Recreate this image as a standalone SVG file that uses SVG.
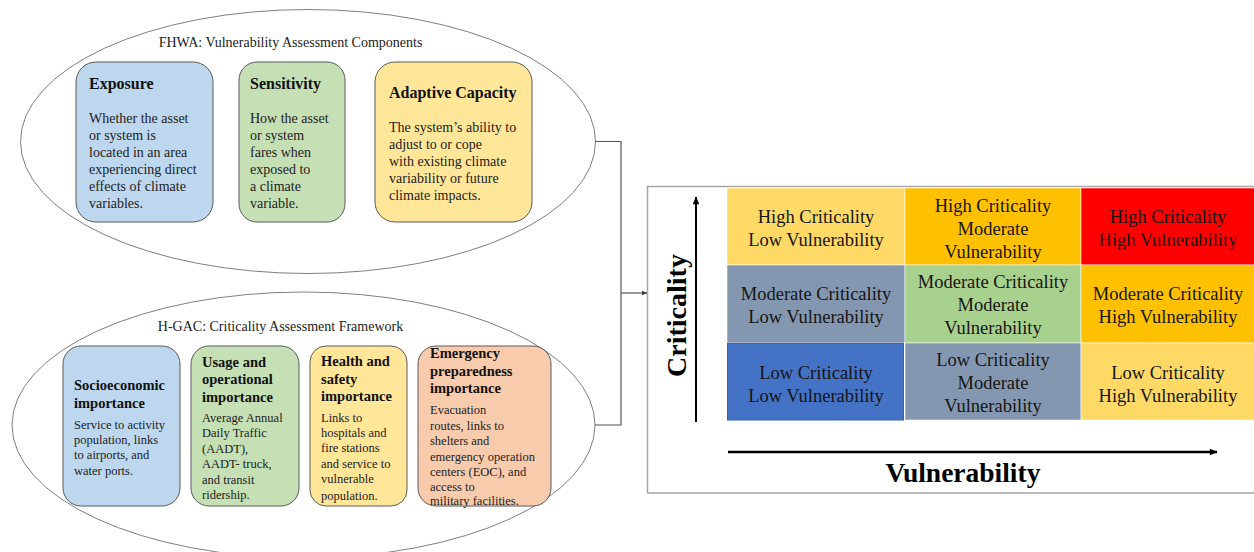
<svg xmlns="http://www.w3.org/2000/svg" width="1254" height="552" viewBox="0 0 1254 552">
  <defs>
    <marker id="arrowSmall" viewBox="0 0 10 10" refX="9" refY="5" markerWidth="6" markerHeight="6" markerUnits="userSpaceOnUse" orient="auto">
      <path d="M0,1 L10,5 L0,9 Z" fill="#404040"/>
    </marker>
    <marker id="arrowAxis" viewBox="0 0 10 10" refX="9" refY="5" markerWidth="9" markerHeight="8" markerUnits="userSpaceOnUse" orient="auto">
      <path d="M0,1 L10,5 L0,9 Z" fill="#000"/>
    </marker>
    <style>
      .frame { fill: none; stroke: #7f7f7f; stroke-width: 1; }
      .box { stroke: #5a5a5a; stroke-width: 1; }
      .blue { fill: #BDD7EE; }
      .green { fill: #C5E0B4; }
      .yellow { fill: #FFE699; }
      .salmon { fill: #F8CBAD; }
      .hdr { font-family: "Liberation Serif", "Times New Roman", serif; font-size: 14px; fill: #222; }
      .ttl { font-family: "Liberation Serif", "Times New Roman", serif; font-size: 16px; font-weight: bold; fill: #111; }
      .txt { font-family: "Liberation Serif", "Times New Roman", serif; font-size: 14px; fill: #222; }
      .ttl2 { font-family: "Liberation Serif", "Times New Roman", serif; font-size: 14.5px; font-weight: bold; fill: #111; }
      .txt2 { font-family: "Liberation Serif", "Times New Roman", serif; font-size: 12.5px; fill: #222; }
      .cell { stroke: #ffffff; stroke-opacity: 0.55; stroke-width: 1; }
      .ctxt { font-family: "Liberation Serif", "Times New Roman", serif; font-size: 18.5px; fill: #151515; text-anchor: middle; }
      .axis { font-family: "Liberation Serif", "Times New Roman", serif; font-size: 27.5px; font-weight: bold; fill: #000; text-anchor: middle; }
      .conn { fill: none; stroke: #555; stroke-width: 1.2; }
    </style>
  </defs>

  <rect width="1254" height="552" fill="#ffffff"/>

  <!-- FHWA vulnerability components -->
  <g id="fhwa">
    <ellipse class="frame" cx="308" cy="141.5" rx="287.5" ry="132"/>
    <text class="hdr" x="290.5" y="47" text-anchor="middle">FHWA: Vulnerability Assessment Components</text>
  </g>

  <g id="exposure">
    <rect class="box blue" x="76" y="62" width="137" height="160" rx="20"/>
    <text class="ttl" x="89" y="89">Exposure</text>
    <text class="txt" x="89" y="123">Whether the asset</text>
    <text class="txt" x="89" y="140">or system is</text>
    <text class="txt" x="89" y="157">located in an area</text>
    <text class="txt" x="89" y="174">experiencing direct</text>
    <text class="txt" x="89" y="191">effects of climate</text>
    <text class="txt" x="89" y="208">variables.</text>
  </g>

  <g id="sensitivity">
    <rect class="box green" x="239" y="62" width="106" height="160" rx="18"/>
    <text class="ttl" x="250" y="89">Sensitivity</text>
    <text class="txt" x="250" y="123">How the asset</text>
    <text class="txt" x="250" y="140">or system</text>
    <text class="txt" x="250" y="157">fares when</text>
    <text class="txt" x="250" y="174">exposed to</text>
    <text class="txt" x="250" y="191">a climate</text>
    <text class="txt" x="250" y="208">variable.</text>
  </g>

  <g id="adaptive-capacity">
    <rect class="box yellow" x="375" y="62" width="157" height="160" rx="20"/>
    <text class="ttl" x="389" y="98">Adaptive Capacity</text>
    <text class="txt" x="389" y="132">The system’s ability to</text>
    <text class="txt" x="389" y="149">adjust to or cope</text>
    <text class="txt" x="389" y="166">with existing climate</text>
    <text class="txt" x="389" y="183">variability or future</text>
    <text class="txt" x="389" y="200">climate impacts.</text>
  </g>

  <!-- H-GAC criticality framework -->
  <g id="hgac">
    <ellipse class="frame" cx="303.5" cy="425" rx="291.5" ry="133"/>
    <text class="hdr" x="280.5" y="330.5" text-anchor="middle">H-GAC: Criticality Assessment Framework</text>
  </g>

  <g id="socioeconomic">
    <rect class="box blue" x="63" y="346" width="117" height="160" rx="18"/>
    <text class="ttl2" x="74" y="390">Socioeconomic</text>
    <text class="ttl2" x="74" y="408">importance</text>
    <text class="txt2" x="74" y="428.5">Service to activity</text>
    <text class="txt2" x="74" y="444">population, links</text>
    <text class="txt2" x="74" y="459">to airports, and</text>
    <text class="txt2" x="74" y="474.5">water ports.</text>
  </g>

  <g id="usage">
    <rect class="box green" x="191" y="346" width="108" height="160" rx="18"/>
    <text class="ttl2" x="202" y="366.5">Usage and</text>
    <text class="ttl2" x="202" y="384">operational</text>
    <text class="ttl2" x="202" y="401.5">importance</text>
    <text class="txt2" x="202" y="421.5">Average  Annual</text>
    <text class="txt2" x="202" y="437">Daily Traffic</text>
    <text class="txt2" x="202" y="452.5">(AADT),</text>
    <text class="txt2" x="202" y="468">AADT-  truck,</text>
    <text class="txt2" x="202" y="483.5">and transit</text>
    <text class="txt2" x="202" y="499">ridership.</text>
  </g>

  <g id="health-safety">
    <rect class="box yellow" x="310" y="346" width="97" height="160" rx="16"/>
    <text class="ttl2" x="321" y="366">Health and</text>
    <text class="ttl2" x="321" y="384">safety</text>
    <text class="ttl2" x="321" y="401">importance</text>
    <text class="txt2" x="321" y="421.5">Links  to</text>
    <text class="txt2" x="321" y="437">hospitals and</text>
    <text class="txt2" x="321" y="452">fire stations</text>
    <text class="txt2" x="321" y="467.5">and service to</text>
    <text class="txt2" x="321" y="483">vulnerable</text>
    <text class="txt2" x="321" y="500">population.</text>
  </g>

  <g id="emergency">
    <rect class="box salmon" x="418" y="346" width="133" height="160" rx="18"/>
    <text class="ttl2" x="430" y="358">Emergency</text>
    <text class="ttl2" x="430" y="376">preparedness</text>
    <text class="ttl2" x="430" y="393">importance</text>
    <text class="txt2" x="430" y="413.5">Evacuation</text>
    <text class="txt2" x="430" y="429.5">routes, links to</text>
    <text class="txt2" x="430" y="444.5">shelters and</text>
    <text class="txt2" x="430" y="460.5">emergency  operation</text>
    <text class="txt2" x="430" y="475.5">centers (EOC), and</text>
    <text class="txt2" x="430" y="490.5">access  to</text>
    <text class="txt2" x="430" y="505">military facilities.</text>
  </g>

  <!-- connectors joining both frameworks into the matrix -->
  <g id="connectors">
    <path class="conn" d="M595,141.5 H621 V425 H595"/>
    <line class="conn" x1="621" y1="293" x2="647" y2="293" marker-end="url(#arrowSmall)"/>
  </g>

  <!-- criticality / vulnerability matrix -->
  <g id="matrix">
    <rect x="647.5" y="186.5" width="640" height="306.5" fill="#ffffff" stroke="#a6a6a6" stroke-width="1.5"/>

    <rect class="cell" x="727" y="188" width="178" height="77" fill="#FFD966"/>
    <rect class="cell" x="905" y="188" width="176" height="77" fill="#FFC000"/>
    <rect class="cell" x="1081" y="188" width="180" height="77" fill="#FF0000"/>
    <rect class="cell" x="727" y="265" width="178" height="78" fill="#8497B0"/>
    <rect class="cell" x="905" y="265" width="176" height="78" fill="#A9D18E"/>
    <rect class="cell" x="1081" y="265" width="180" height="78" fill="#FFC000"/>
    <rect x="727.5" y="343.5" width="176" height="76.5" fill="#4472C4" stroke="#3462B8" stroke-width="1"/>
    <rect class="cell" x="905" y="343" width="176" height="77" fill="#8497B0"/>
    <rect class="cell" x="1081" y="343" width="180" height="77" fill="#FFD966"/>

    <text class="ctxt" x="816" y="222.5">High Criticality</text>
    <text class="ctxt" x="816" y="245.5">Low Vulnerability</text>

    <text class="ctxt" x="993" y="211.5">High Criticality</text>
    <text class="ctxt" x="993" y="234.5">Moderate</text>
    <text class="ctxt" x="993" y="257.5">Vulnerability</text>

    <text class="ctxt" x="1168" y="222.5" fill="#1a0000">High Criticality</text>
    <text class="ctxt" x="1168" y="245.5" fill="#1a0000">High Vulnerability</text>

    <text class="ctxt" x="816" y="299.5">Moderate Criticality</text>
    <text class="ctxt" x="816" y="322.5">Low Vulnerability</text>

    <text class="ctxt" x="993" y="288">Moderate Criticality</text>
    <text class="ctxt" x="993" y="311">Moderate</text>
    <text class="ctxt" x="993" y="334">Vulnerability</text>

    <text class="ctxt" x="1168" y="299.5">Moderate Criticality</text>
    <text class="ctxt" x="1168" y="322.5">High Vulnerability</text>

    <text class="ctxt" x="816" y="379" fill="#ffffff">Low Criticality</text>
    <text class="ctxt" x="816" y="402" fill="#ffffff">Low Vulnerability</text>

    <text class="ctxt" x="993" y="366">Low Criticality</text>
    <text class="ctxt" x="993" y="389">Moderate</text>
    <text class="ctxt" x="993" y="412">Vulnerability</text>

    <text class="ctxt" x="1168" y="379">Low Criticality</text>
    <text class="ctxt" x="1168" y="402">High Vulnerability</text>

    <line x1="696" y1="422" x2="696" y2="197" stroke="#000" stroke-width="2" marker-end="url(#arrowAxis)"/>
    <line x1="728" y1="452" x2="1217" y2="452" stroke="#000" stroke-width="2.5" marker-end="url(#arrowAxis)"/>

    <text class="axis" x="0" y="0" style="font-size:28px" transform="translate(686,315.5) rotate(-90)">Criticality</text>
    <text class="axis" x="963" y="482">Vulnerability</text>
  </g>
</svg>
